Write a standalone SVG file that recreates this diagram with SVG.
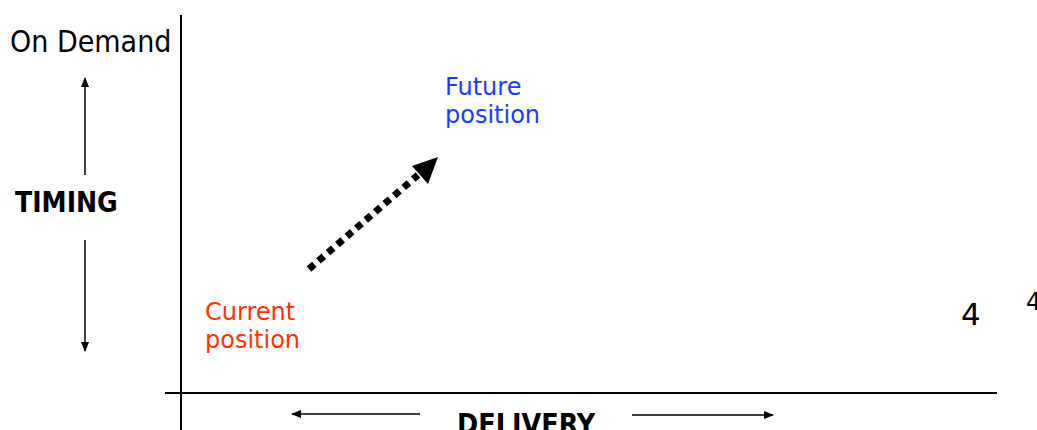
<svg xmlns="http://www.w3.org/2000/svg" width="1037" height="430" viewBox="0 0 1037 430">
<style>
.t{font-family:"DejaVu Sans",sans-serif;}
.c{font-family:"DejaVu Sans Condensed","DejaVu Sans",sans-serif;font-stretch:condensed;}
.ax{stroke:#000;stroke-width:2;fill:none;}
.ar{stroke:#000;stroke-width:1.5;fill:none;}
</style>
<defs>
<marker id="ah" markerWidth="10" markerHeight="8" refX="9" refY="4" orient="auto" markerUnits="userSpaceOnUse">
<path d="M0,0 L10,4 L0,8 Z" fill="#000"/>
</marker>
</defs>
<rect width="1037" height="430" fill="#fff"/>
<g id="axes">
<line class="ax" x1="181" y1="15" x2="181" y2="430"/>
<line class="ax" x1="165" y1="393" x2="997" y2="393"/>
</g>
<g id="connectors">
<line class="ar" x1="85" y1="175" x2="85" y2="78" marker-end="url(#ah)"/>
<line class="ar" x1="85" y1="240" x2="85" y2="351" marker-end="url(#ah)"/>
<line class="ar" x1="420" y1="414" x2="292" y2="414" marker-end="url(#ah)"/>
<line class="ar" x1="632" y1="415" x2="773" y2="415" marker-end="url(#ah)"/>
<line x1="309" y1="269" x2="418" y2="175" stroke="#000" stroke-width="7" stroke-dasharray="7 5.5"/>
<polygon points="438,157 428,184 412,166" fill="#000"/>
</g>
<g id="labels">
<text class="c" x="10" y="52" font-size="30">On Demand</text>
<text class="c" x="15" y="212" font-size="28" font-weight="bold">TIMING</text>
<text class="c" x="457" y="434" font-size="28.4" font-weight="bold">DELIVERY</text>
<text class="t" x="961" y="325" font-size="31">4</text>
<text class="t" x="1026" y="310" font-size="24">4</text>
</g>
<g id="current">
<text class="t" font-size="24" fill="#ff3300"><tspan x="205" y="320">Current</tspan><tspan x="205" y="348">position</tspan></text>
</g>
<g id="future">
<text class="t" font-size="24" fill="#1a3cff"><tspan x="445" y="95">Future</tspan><tspan x="445" y="123">position</tspan></text>
</g>
</svg>
